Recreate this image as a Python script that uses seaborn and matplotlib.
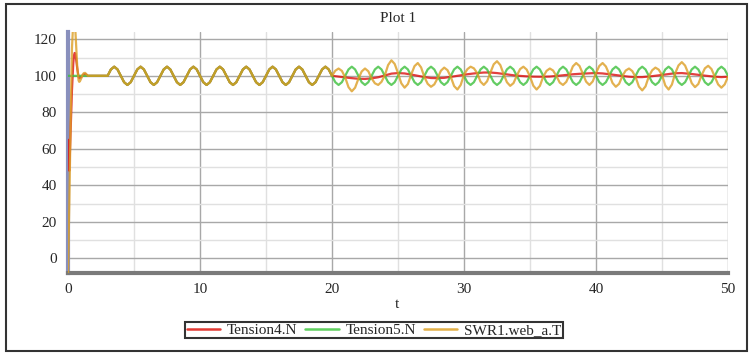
import numpy as np
import pandas as pd
import matplotlib
matplotlib.use("Agg")
import matplotlib.pyplot as plt
from matplotlib.patches import Rectangle
from matplotlib.ticker import MultipleLocator
import seaborn as sns

# ---- data ----
series_names = ["Tension4.N", "Tension5.N", "SWR1.web_a.T"]

# start-up transient, t = 0 .. 1.5
t_early = [0.0, 0.05, 0.1, 0.2, 0.3, 0.4, 0.45, 0.5, 0.55, 0.6,
           0.7, 0.8, 0.85, 0.9, 1.0, 1.1, 1.2, 1.3, 1.4, 1.5]
red_early = [65, 50, 48, 70, 92, 107, 111, 112.5, 112.3, 110,
             104, 99.5, 98.8, 98.8, 99.3, 100.2, 100.8, 101, 100.6, 100]
green_early = [100, 100, 100, 100, 100, 100, 100, 100, 100, 100,
               100, 100, 100, 100, 100, 100, 100, 100, 100, 100]
yellow_early = [-8, 10, 30, 75, 115, 130, 133, 131, 126, 119,
                105, 97.5, 96.7, 97, 98.5, 100.5, 101.5, 101.6, 100.8, 100]

# t = 1.75 .. 20 every 0.25 : all three signals identical
t_mid = np.arange(1.75, 20.001, 0.25)
shared_mid = [100, 100, 100, 100, 100, 100,
              103.5, 105, 103.5, 100, 96.5, 95, 96.5, 100,
              103.5, 105, 103.5, 100, 96.5, 95, 96.5, 100,
              103.5, 105, 103.5, 100, 96.5, 95, 96.5, 100,
              103.5, 105, 103.5, 100, 96.5, 95, 96.5, 100,
              103.5, 105, 103.5, 100, 96.5, 95, 96.5, 100,
              103.5, 105, 103.5, 100, 96.5, 95, 96.5, 100,
              103.5, 105, 103.5, 100, 96.5, 95, 96.5, 100,
              103.5, 105, 103.5, 100, 96.5, 95, 96.5, 100,
              103.5, 105, 103.5, 100]

# t = 20.25 .. 50 every 0.25 : signals separate
t_late = np.arange(20.25, 50.001, 0.25)
red_late = [99.8, 99.6, 99.35, 99.1, 98.9, 98.7, 98.55, 98.4,
            98.35, 98.3, 98.45, 98.6, 98.9, 99.2, 99.7, 100.2,
            100.7, 101.2, 101.35, 101.5, 101.4, 101.3, 101.0, 100.7,
            100.35, 100.0, 99.65, 99.3, 99.05, 98.8, 98.75, 98.7,
            98.8, 98.9, 99.15, 99.4, 99.7, 100.0, 100.3, 100.6,
            100.85, 101.1, 101.3, 101.5, 101.65, 101.8, 101.8, 101.8,
            101.65, 101.5, 101.25, 101.0, 100.75, 100.5, 100.3, 100.1,
            99.95, 99.8, 99.7, 99.6, 99.55, 99.5, 99.5, 99.5,
            99.55, 99.6, 99.75, 99.9, 100.1, 100.3, 100.5, 100.7,
            100.85, 101.0, 101.1, 101.2, 101.3, 101.4, 101.45, 101.5,
            101.4, 101.3, 101.1, 100.9, 100.65, 100.4, 100.15, 99.9,
            99.7, 99.5, 99.4, 99.3, 99.3, 99.3, 99.45, 99.6,
            99.8, 100.0, 100.25, 100.5, 100.75, 101.0, 101.2, 101.4,
            101.45, 101.5, 101.35, 101.2, 101.0, 100.8, 100.55, 100.3,
            100.1, 99.9, 99.7, 99.5, 99.4, 99.3, 99.4, 99.5]
green_late = [96.5, 95, 96.5, 100, 103.5, 105, 103.5, 100,
              96.5, 95, 96.5, 100, 103.5, 105, 103.5, 100,
              96.5, 95, 96.5, 100, 103.5, 105, 103.5, 100,
              96.5, 95, 96.5, 100, 103.5, 105, 103.5, 100,
              96.5, 95, 96.5, 100, 103.5, 105, 103.5, 100,
              96.5, 95, 96.5, 100, 103.5, 105, 103.5, 100,
              96.5, 95, 96.5, 100, 103.5, 105, 103.5, 100,
              96.5, 95, 96.5, 100, 103.5, 105, 103.5, 100,
              96.5, 95, 96.5, 100, 103.5, 105, 103.5, 100,
              96.5, 95, 96.5, 100, 103.5, 105, 103.5, 100,
              96.5, 95, 96.5, 100, 103.5, 105, 103.5, 100,
              96.5, 95, 96.5, 100, 103.5, 105, 103.5, 100,
              96.5, 95, 96.5, 100, 103.5, 105, 103.5, 100,
              96.5, 95, 96.5, 100, 103.5, 105, 103.5, 100,
              96.5, 95, 96.5, 100, 103.5, 105, 103.5, 100]
yellow_late = [102.8, 104, 102.7, 99.1, 93.8, 91.5, 93.5, 98.4,
               102.4, 104, 102.5, 98.6, 95.9, 95, 96.7, 100.2,
               105.9, 108.5, 106.5, 101.5, 95.9, 93.5, 95.5, 100.7,
               105.3, 107, 104.6, 99.3, 95.6, 94, 95.3, 98.7,
               102.8, 104.5, 103.1, 99.4, 94.4, 92.5, 95, 100.6,
               103.6, 105, 104.1, 101.5, 96.8, 95, 97, 101.8,
               106.3, 108, 105.9, 101, 96.5, 94.5, 96, 100.1,
               103.7, 105, 103.4, 99.6, 94.6, 92.5, 94.5, 99.5,
               102.7, 104, 102.9, 99.9, 96.3, 95, 96.7, 100.7,
               105.2, 107, 105.4, 101.2, 96.8, 95, 96.9, 101.5,
               105.4, 107, 105.1, 100.9, 96.1, 94, 95.6, 99.9,
               102.9, 104, 102.6, 99.3, 94.1, 92, 94.2, 99.6,
               103, 104.5, 103.4, 100.5, 94.7, 92.5, 95.2, 101.4,
               105.7, 107.5, 105.6, 101.2, 96, 93.8, 95.5, 100.3,
               104.1, 105.5, 103.7, 99.5, 95.3, 93.5, 95.3, 99.5]

# semi-transparent line colours (overlap gives the olive trace before t=20)
colors = ["#dc1010", "#3cc03c", "#dc9e24"]
legend_colors = ["#e23a34", "#5fd05f", "#e2b048"]

t_all = np.concatenate([t_early, t_mid, t_late])
frames = []
for name, early, late in zip(series_names,
                             [red_early, green_early, yellow_early],
                             [red_late, green_late, yellow_late]):
    vals = np.concatenate([early, shared_mid, late])
    frames.append(pd.DataFrame({"t": t_all, "value": vals, "series": name}))
df = pd.concat(frames, ignore_index=True)

sns.set_style("white")
plt.rcParams["font.family"] = ["Liberation Serif", "DejaVu Serif"]

fig = plt.figure(figsize=(7.53, 3.55), dpi=100)
ax = fig.add_axes([68 / 753, 82 / 355, 660 / 753, 241 / 355])

sns.lineplot(data=df, x="t", y="value", hue="series", palette=colors,
             hue_order=series_names, sort=False, estimator=None,
             linewidth=1.6, alpha=0.8, ax=ax, legend=False)
for ln in ax.lines:
    ln.set_zorder(3)

ax.set_xlim(0, 50)
ax.set_ylim(-8, 124)
ax.xaxis.set_major_locator(MultipleLocator(10))
ax.xaxis.set_minor_locator(MultipleLocator(5))
ax.yaxis.set_major_locator(MultipleLocator(20))
ax.yaxis.set_minor_locator(MultipleLocator(10))
ax.grid(which="major", color="#a8a8a8", linewidth=1.0)
ax.grid(which="minor", color="#e0e0e0", linewidth=1.0)
ax.set_axisbelow(True)

for side in ["top", "right"]:
    ax.spines[side].set_visible(False)
ax.spines["left"].set_color("#8990bd")
ax.spines["left"].set_linewidth(3)
ax.spines["bottom"].set_color("#7a7a7a")
ax.spines["bottom"].set_linewidth(3)

ax.tick_params(axis="y", which="major", direction="out", length=6, width=1,
               color="black", labelsize=11, pad=2)
ax.tick_params(axis="y", which="minor", direction="out", length=3, width=1,
               color="black")
ax.tick_params(axis="x", which="major", direction="inout", length=6, width=1,
               color="#333333", labelsize=11, pad=4)
ax.tick_params(axis="x", which="minor", direction="in", length=4, width=1,
               color="#333333")
ax.set_xlabel("")
ax.set_ylabel("")

fig.text(398 / 753, 1 - 18 / 355, "Plot 1", ha="center", va="center", fontsize=11)
fig.text(397 / 753, 1 - 305 / 355, "t", ha="center", va="center", fontsize=11)

handles = [plt.Line2D([], [], color=c, linewidth=1.8) for c in legend_colors]
leg = fig.legend(handles, series_names, loc="center",
                 bbox_to_anchor=(374 / 753, 1 - 330 / 355), ncol=3,
                 fontsize=11, frameon=True, fancybox=False, handlelength=2.2,
                 handletextpad=0.45, columnspacing=0.5, borderpad=0.08,
                 borderaxespad=0, edgecolor="black")
leg.get_frame().set_linewidth(1.5)

fig.patches.append(Rectangle((6 / 753, 4 / 355), 741 / 753, 347 / 355,
                             transform=fig.transFigure, fill=False,
                             edgecolor="#333333", linewidth=1.5))

fig.savefig("out.png", dpi=100)
